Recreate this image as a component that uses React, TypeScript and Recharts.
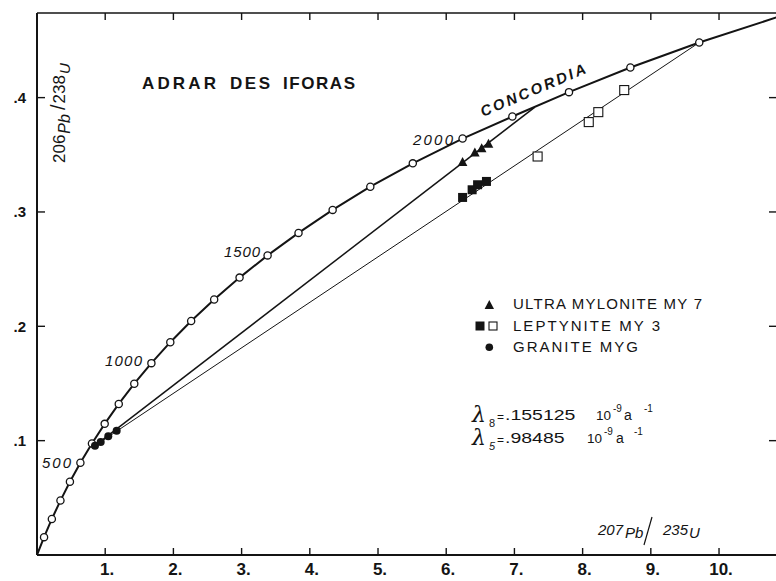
import { ReferenceLine, Scatter, ScatterChart, XAxis, YAxis } from 'recharts';

// concordia, one open circle every 100 Ma (first and last point carry no circle)
const concordiaX = [0, 0.1035, 0.2177, 0.3438, 0.4828, 0.6363, 0.8056, 0.9925, 1.1987, 1.4263, 1.6774, 1.9545, 2.2603, 2.5977, 2.9701, 3.381, 3.8344, 4.3348, 4.8869, 5.51, 6.24, 6.97, 7.8, 8.7, 9.71, 10.85];
const concordiaY = [0, 0.0156, 0.0315, 0.0476, 0.064, 0.0807, 0.0975, 0.1147, 0.1321, 0.1498, 0.1678, 0.1861, 0.2046, 0.2234, 0.2426, 0.262, 0.2817, 0.3018, 0.3221, 0.3425, 0.3642, 0.3835, 0.4048, 0.4263, 0.4482, 0.4703];

const graniteX = [0.85, 0.934, 1.045, 1.168];
const graniteY = [0.0956, 0.0989, 0.1038, 0.1087];

const ultraX = [6.24, 6.42, 6.52, 6.62];
const ultraY = [0.3436, 0.352, 0.3558, 0.3596];

const leptyFilledX = [6.24, 6.38, 6.46, 6.59];
const leptyFilledY = [0.3127, 0.3194, 0.3238, 0.3267];

const leptyOpenX = [7.34, 8.09, 8.23, 8.61];
const leptyOpenY = [0.3485, 0.3786, 0.3873, 0.4066];

const discordiaUpperX = [0.85, 7.3];
const discordiaUpperY = [0.0956, 0.3917];
const discordiaLowerX = [0.85, 9.71];
const discordiaLowerY = [0.0956, 0.4482];

const xTicks = [1, 2, 3, 4, 5, 6, 7, 8, 9, 10];
const yTicks = [0.1, 0.2, 0.3, 0.4];

const zip = (xs: number[], ys: number[]) => xs.map((x, i) => ({ x, y: ys[i] }));

const INK = '#141414';
const FONT = '"Liberation Sans", Arial, sans-serif';

// frame geometry
const W = 780;
const H = 581;
const M_TOP = 13;
const M_RIGHT = 3;
const Y_AXIS_W = 37;
const X_AXIS_H = 26;
const TICK_SIZE = 5;
const TICK_MARGIN = 3;
const PLOT_RIGHT = W - M_RIGHT;

type P = { cx?: number; cy?: number };

const Nothing = () => <g />;

function OpenCircle({ cx, cy }: P) {
  if (cx == null || cy == null) return <g />;
  return <circle cx={cx} cy={cy} r={3.6} fill="#fff" stroke={INK} strokeWidth={1.3} />;
}

function Dot({ cx, cy }: P) {
  if (cx == null || cy == null) return <g />;
  return <circle cx={cx} cy={cy} r={4} fill={INK} />;
}

function Triangle({ cx, cy }: P) {
  if (cx == null || cy == null) return <g />;
  return <path d={`M${cx},${cy - 5} L${cx + 4.8},${cy + 4} L${cx - 4.8},${cy + 4} Z`} fill={INK} />;
}

function FilledSquare({ cx, cy }: P) {
  if (cx == null || cy == null) return <g />;
  return <rect x={cx - 4.5} y={cy - 4.5} width={9} height={9} fill={INK} />;
}

function OpenSquare({ cx, cy }: P) {
  if (cx == null || cy == null) return <g />;
  return <rect x={cx - 4.5} y={cy - 4.5} width={9} height={9} fill="#fff" stroke={INK} strokeWidth={1.1} />;
}

// inward tick marks on bottom and top edge, label below
function XTick({ x, y, payload }: { x?: number; y?: number; payload?: { value: number } }) {
  if (x == null || y == null || !payload) return <g />;
  const axisY = y - TICK_SIZE - TICK_MARGIN;
  return (
    <g>
      <line x1={x} x2={x} y1={axisY} y2={axisY - 7} stroke={INK} strokeWidth={1.4} />
      <line x1={x} x2={x} y1={M_TOP} y2={M_TOP + 7} stroke={INK} strokeWidth={1.4} />
      <text x={x + 2} y={y} dy="0.71em" textAnchor="middle" fill={INK} fontSize={17} fontWeight="bold" fontFamily={FONT}>
        {`${payload.value}.`}
      </text>
    </g>
  );
}

// inward tick marks on left and right edge, label at left
function YTick({ x, y, payload }: { x?: number; y?: number; payload?: { value: number } }) {
  if (x == null || y == null || !payload) return <g />;
  const axisX = x + TICK_SIZE + TICK_MARGIN;
  return (
    <g>
      <line x1={axisX} x2={axisX + 8} y1={y} y2={y} stroke={INK} strokeWidth={1.4} />
      <line x1={PLOT_RIGHT - 8} x2={PLOT_RIGHT} y1={y} y2={y} stroke={INK} strokeWidth={1.4} />
      <text x={x - 3} y={y} dy="0.355em" textAnchor="end" fill={INK} fontSize={15} fontWeight="bold" fontFamily={FONT}>
        {`.${Math.round(payload.value * 10)}`}
      </text>
    </g>
  );
}

function Wide({ x, y, children, size = 15 }: { x: number; y: number; children: string; size?: number }) {
  return (
    <text transform={`translate(${x} ${y}) scale(1.3 1)`} fontSize={size}>
      {children}
    </text>
  );
}

function Overlay() {
  return (
    <svg width={776} height={581} style={{ position: 'absolute', left: 0, top: 0, pointerEvents: 'none' }} fontFamily={FONT} fill={INK}>
      <g fontWeight="bold" fontSize={17}>
        <text x={142} y={89} textLength={74} lengthAdjust="spacing">ADRAR</text>
        <text x={230} y={89} textLength={40} lengthAdjust="spacing">DES</text>
        <text x={283} y={89} textLength={72} lengthAdjust="spacing">IFORAS</text>
      </g>
      <text x={483} y={117} fontWeight="bold" fontStyle="italic" fontSize={15} transform="rotate(-23 483 117)" textLength={113} lengthAdjust="spacing">CONCORDIA</text>
      <g fontStyle="italic" fontSize={15}>
        <text x={413} y={145} textLength={40} lengthAdjust="spacing">2000</text>
        <text x={224} y={257} textLength={36} lengthAdjust="spacing">1500</text>
        <text x={105} y={366} textLength={37} lengthAdjust="spacing">1000</text>
        <text x={42} y={468} textLength={29} lengthAdjust="spacing">500</text>
      </g>
      {/* legend */}
      <path d="M489.3,300 L494,309 L484.6,309 Z" />
      <rect x={475.5} y={321.5} width={9} height={9} />
      <rect x={489} y={322} width={8} height={8} fill="#fff" stroke={INK} strokeWidth={1.1} />
      <circle cx={489.3} cy={347.3} r={3.8} />
      <g fontSize={15}>
        <text x={513} y={309} textLength={189} lengthAdjust="spacing">ULTRA MYLONITE  MY 7</text>
        <text x={513} y={331} textLength={147} lengthAdjust="spacing">LEPTYNITE  MY 3</text>
        <text x={513} y={352} textLength={125} lengthAdjust="spacing">GRANITE  MYG</text>
      </g>
      {/* decay constants */}
      <g fontSize={15}>
        <text x={472} y={422} fontFamily='"DejaVu Serif", serif' fontStyle="italic" fontSize={22}>λ</text>
        <text x={489} y={427} fontSize={11}>8</text>
        <text x={497} y={421} fontSize={12}>=</text>
        <Wide x={505} y={420}>.155125</Wide>
        <text x={596} y={420} fontSize={13.5}>10</text>
        <text x={613} y={412} fontSize={10}>-9</text>
        <text x={624} y={420} fontSize={14}>a</text>
        <text x={644} y={412} fontSize={10}>-1</text>

        <text x={472} y={445} fontFamily='"DejaVu Serif", serif' fontStyle="italic" fontSize={22}>λ</text>
        <text x={489} y={450} fontSize={11} fontStyle="italic">5</text>
        <text x={497} y={444} fontSize={12}>=</text>
        <Wide x={505} y={443}>.98485</Wide>
        <text x={587} y={443} fontSize={13.5}>10</text>
        <text x={604} y={435} fontSize={10}>-9</text>
        <text x={616} y={443} fontSize={14}>a</text>
        <text x={634} y={435} fontSize={10}>-1</text>
      </g>
      {/* axis titles */}
      <g transform="rotate(-90 65 163)">
        <text x={65} y={163} fontSize={17}>
          <tspan>206</tspan>
          <tspan dx={1} dy={5} fontStyle="italic" fontSize={16}>Pb</tspan>
          <tspan dx={4} dy={-5} fontSize={20}>/</tspan>
          <tspan dx={1}>238</tspan>
          <tspan dx={1} dy={5} fontStyle="italic" fontSize={15}>U</tspan>
        </text>
      </g>
      <text x={598} y={535} fontSize={15} fontStyle="italic">
        <tspan>207</tspan>
        <tspan dx={2} dy={3}>Pb</tspan>
      </text>
      <line x1={652} y1={517} x2={644} y2={545} stroke={INK} strokeWidth={1.2} />
      <text x={663} y={535} fontSize={15} fontStyle="italic">
        <tspan>235</tspan>
        <tspan dx={1} dy={3}>U</tspan>
      </text>
    </svg>
  );
}

export default function App() {
  const xDomain: [number, number] = [0, 10.85];
  const yDomain: [number, number] = [0, 0.474];
  return (
    <div style={{ position: 'absolute', left: 0, top: 0, width: 776, height: 581, overflow: 'hidden', background: '#fff' }}>
      <ScatterChart width={W} height={H} margin={{ top: M_TOP, right: M_RIGHT, bottom: 0, left: 0 }}>
        <XAxis type="number" dataKey="x" domain={xDomain} ticks={xTicks} allowDataOverflow interval={0}
          height={X_AXIS_H} tickLine={false} tickSize={TICK_SIZE} tickMargin={TICK_MARGIN}
          axisLine={{ stroke: INK, strokeWidth: 2 }} tick={<XTick />} />
        <YAxis type="number" dataKey="y" domain={yDomain} ticks={yTicks} allowDataOverflow interval={0}
          width={Y_AXIS_W} tickLine={false} tickSize={TICK_SIZE} tickMargin={TICK_MARGIN}
          axisLine={{ stroke: INK, strokeWidth: 2 }} tick={<YTick />} />
        <ReferenceLine y={0.474} stroke={INK} strokeWidth={1.6} ifOverflow="visible" />

        <Scatter data={zip(discordiaLowerX, discordiaLowerY)} shape={Nothing}
          line={{ stroke: INK, strokeWidth: 1 }} isAnimationActive={false} />
        <Scatter data={zip(discordiaUpperX, discordiaUpperY)} shape={Nothing}
          line={{ stroke: INK, strokeWidth: 1.5 }} isAnimationActive={false} />
        <Scatter data={zip(concordiaX, concordiaY)} shape={Nothing}
          line={{ stroke: INK, strokeWidth: 2 }} isAnimationActive={false} />
        <Scatter data={zip(concordiaX.slice(1, -1), concordiaY.slice(1, -1))}
          shape={(p: P) => <OpenCircle {...p} />} isAnimationActive={false} />
        <Scatter data={zip(graniteX, graniteY)} shape={(p: P) => <Dot {...p} />} isAnimationActive={false} />
        <Scatter data={zip(ultraX, ultraY)} shape={(p: P) => <Triangle {...p} />} isAnimationActive={false} />
        <Scatter data={zip(leptyFilledX, leptyFilledY)} shape={(p: P) => <FilledSquare {...p} />} isAnimationActive={false} />
        <Scatter data={zip(leptyOpenX, leptyOpenY)} shape={(p: P) => <OpenSquare {...p} />} isAnimationActive={false} />
      </ScatterChart>
      <Overlay />
    </div>
  );
}
